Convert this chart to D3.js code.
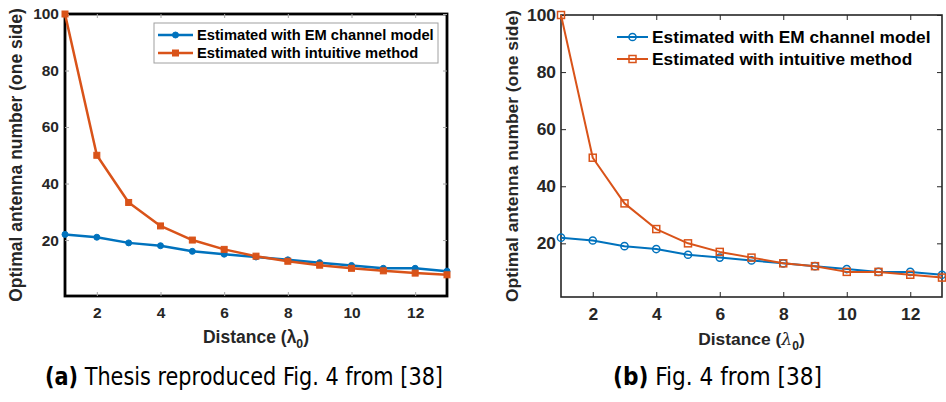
<!DOCTYPE html>
<html>
<head>
<meta charset="utf-8">
<script src="https://cdn.jsdelivr.net/npm/d3@7/dist/d3.min.js"></script>
<style>
  body { margin: 0; background: #fff; }
  svg { display: block; }
</style>
</head>
<body>
<svg id="chart" width="946" height="402"></svg>
<script>
// values
const distance = [1, 2, 3, 4, 5, 6, 7, 8, 9, 10, 11, 12, 13];
const xTicks = [2, 4, 6, 8, 10, 12];
const yTicks = [20, 40, 60, 80, 100];
const emThesis = [22, 21, 19, 18, 16, 15, 14, 13, 12, 11, 10, 10, 9];
const intuitiveThesis = [100, 50, 33.3, 25, 20, 16.7, 14.3, 12.5, 11.1, 10, 9.1, 8.3, 7.7];
const emPaper = [22, 21, 19, 18, 16, 15, 14, 13, 12, 11, 10, 10, 9];
const intuitivePaper = [100, 50, 34, 25, 20, 17, 15, 13, 12, 10, 10, 9, 8];
const seriesNames = ['Estimated with EM channel model', 'Estimated with intuitive method'];
const yLabel = 'Optimal antenna number (one side)';
const captionTags = ['(a)', '(b)'];
const captionTexts = [' Thesis reproduced Fig. 4 from [38]', ' Fig. 4 from [38]'];

const BLUE = '#0072BD';
const ORANGE = '#D95319';
const TXT = '#262626';
const FONT = '"Liberation Sans", Arial, Helvetica, sans-serif';

const panels = [
  {
    left: 65, right: 447, top: 14, bottom: 296, yMin: 0.2,
    em: emThesis, intuitive: intuitiveThesis,
    tickFont: 15.5, labelFont: 17.5, legendFont: 14.7,
    lineW: 2.5, filled: true,
    boxColor: '#000', boxW: 2.8, tickColor: '#a6a6a6', tickLen: 4,
    yLabelX: 21.5, xLabelY: 342.5, lambdaStyle: 'normal',
    legend: { box: [154, 23, 284, 40], x0: 158, x1: 193, tx: 197, rows: [35, 53] },
    caption: { x: 45, y: 385, w: 398 }
  },
  {
    left: 561, right: 942, top: 15, bottom: 297, yMin: 1.2,
    em: emPaper, intuitive: intuitivePaper,
    tickFont: 17.4, labelFont: 17.4, legendFont: 17.3,
    lineW: 2, filled: false,
    boxColor: TXT, boxW: 1.6, tickColor: TXT, tickLen: 5,
    yLabelX: 518, xLabelY: 345, lambdaStyle: 'italic',
    legend: { box: null, x0: 617, x1: 648, tx: 652, rows: [37, 59] },
    caption: { x: 613, y: 385, w: 209 }
  }
];

const svg = d3.select('#chart');

function marker(sel, kind, color, p, cx, cy) {
  const fill = p.filled ? color : 'none';
  if (kind === 'circle') {
    sel.append('circle')
      .attr('cx', cx).attr('cy', cy)
      .attr('r', p.filled ? 3 : 3.6)
      .attr('fill', fill)
      .attr('stroke', color)
      .attr('stroke-width', p.filled ? 1 : 1.5);
  } else {
    const s = p.filled ? 6 : 7;
    sel.append('rect')
      .attr('x', cx - s / 2).attr('y', cy - s / 2)
      .attr('width', s).attr('height', s)
      .attr('fill', fill)
      .attr('stroke', color)
      .attr('stroke-width', p.filled ? 1 : 1.5);
  }
}

panels.forEach((p, i) => {
  const x = d3.scaleLinear().domain([1, 13]).range([p.left, p.right]);
  const y = d3.scaleLinear().domain([p.yMin, 100]).range([p.bottom, p.top]);
  const W = p.right - p.left;
  const H = p.bottom - p.top;
  const g = svg.append('g');

  // axes box
  g.append('rect')
    .attr('x', p.left).attr('y', p.top)
    .attr('width', W).attr('height', H)
    .attr('fill', '#fff')
    .attr('stroke', p.boxColor)
    .attr('stroke-width', p.boxW);

  // inward ticks on all four sides
  const styleAxis = (ax) => {
    ax.select('.domain').remove();
    ax.selectAll('.tick line').attr('stroke', p.tickColor).attr('stroke-width', 1);
    ax.selectAll('.tick text')
      .attr('fill', TXT)
      .attr('font-family', FONT)
      .attr('font-weight', 'bold')
      .attr('font-size', p.tickFont);
  };

  g.append('g')
    .attr('transform', `translate(0,${p.bottom})`)
    .call(d3.axisBottom(x).tickValues(xTicks).tickSize(-p.tickLen).tickPadding(11))
    .call(styleAxis);
  g.append('g')
    .attr('transform', `translate(0,${p.top})`)
    .call(d3.axisTop(x).tickValues(xTicks).tickSize(-p.tickLen).tickFormat(''))
    .call(styleAxis);
  g.append('g')
    .attr('transform', `translate(${p.left},0)`)
    .call(d3.axisLeft(y).tickValues(yTicks).tickSize(-p.tickLen).tickPadding(i === 0 ? 6 : 5))
    .call(styleAxis);
  g.append('g')
    .attr('transform', `translate(${p.right},0)`)
    .call(d3.axisRight(y).tickValues(yTicks).tickSize(-p.tickLen).tickFormat(''))
    .call(styleAxis);

  // series
  const series = [
    { values: p.em, color: BLUE, kind: 'circle' },
    { values: p.intuitive, color: ORANGE, kind: 'square' }
  ];
  const line = d3.line().x((d) => x(d[0])).y((d) => y(d[1]));
  series.forEach((s) => {
    const pts = distance.map((d, j) => [d, s.values[j]]);
    g.append('path')
      .datum(pts)
      .attr('d', line)
      .attr('fill', 'none')
      .attr('stroke', s.color)
      .attr('stroke-width', p.lineW)
      .attr('stroke-linejoin', 'round');
    const mk = g.append('g');
    pts.forEach((d) => marker(mk, s.kind, s.color, p, x(d[0]), y(d[1])));
  });

  // legend
  const L = p.legend;
  if (L.box) {
    g.append('rect')
      .attr('x', L.box[0]).attr('y', L.box[1])
      .attr('width', L.box[2]).attr('height', L.box[3])
      .attr('fill', '#fff')
      .attr('stroke', '#a0a0a0')
      .attr('stroke-width', 1);
  }
  series.forEach((s, j) => {
    const ry = L.rows[j];
    g.append('line')
      .attr('x1', L.x0).attr('x2', L.x1)
      .attr('y1', ry).attr('y2', ry)
      .attr('stroke', s.color)
      .attr('stroke-width', p.lineW);
    marker(g, s.kind, s.color, p, (L.x0 + L.x1) / 2, ry);
    g.append('text')
      .attr('x', L.tx).attr('y', ry)
      .attr('dy', '0.36em')
      .attr('fill', '#000')
      .attr('font-family', FONT)
      .attr('font-weight', 'bold')
      .attr('font-size', p.legendFont)
      .text(seriesNames[j]);
  });

  // axis labels
  g.append('text')
    .attr('transform', `translate(${p.yLabelX},${(p.top + p.bottom) / 2}) rotate(-90)`)
    .attr('text-anchor', 'middle')
    .attr('fill', TXT)
    .attr('font-family', FONT)
    .attr('font-weight', 'bold')
    .attr('font-size', p.labelFont)
    .text(yLabel);

  const xl = g.append('text')
    .attr('x', (p.left + p.right) / 2)
    .attr('y', p.xLabelY)
    .attr('text-anchor', 'middle')
    .attr('fill', TXT)
    .attr('font-family', FONT)
    .attr('font-weight', 'bold')
    .attr('font-size', p.labelFont);
  xl.append('tspan').text('Distance (');
  xl.append('tspan')
    .attr('font-style', p.lambdaStyle)
    .attr('font-weight', p.lambdaStyle === 'italic' ? 'normal' : 'bold')
    .attr('font-family', p.lambdaStyle === 'italic' ? '"DejaVu Serif", serif' : FONT)
    .text('λ');
  xl.append('tspan').attr('dy', 5).attr('font-size', p.labelFont * 0.7).text('0');
  xl.append('tspan').attr('dy', -5).text(')');

  // caption under the subfigure
  const c = p.caption;
  const cap = svg.append('text')
    .attr('x', c.x).attr('y', c.y)
    .attr('fill', '#000')
    .attr('font-family', '"Liberation Sans Narrow", "DejaVu Sans Condensed", "Liberation Sans", sans-serif')
    .attr('font-size', 25)
    .attr('textLength', c.w)
    .attr('lengthAdjust', 'spacingAndGlyphs');
  cap.append('tspan').attr('font-weight', 'bold').text(captionTags[i]);
  cap.append('tspan').text(captionTexts[i]);
});
</script>
</body>
</html>
